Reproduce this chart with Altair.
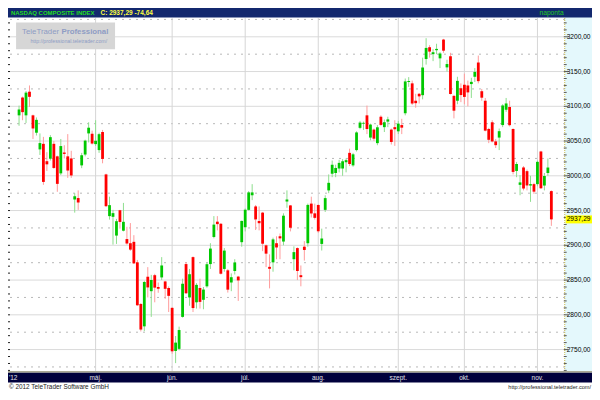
import altair as alt
import pandas as pd

# ---------------- data ----------------
dates = (
    ["2012-03-29", "2012-03-30"]
    + ["2012-04-%02d" % d for d in [2, 3, 4, 5, 9, 10, 11, 12, 13, 16, 17, 18, 19, 20, 23, 24, 25, 26, 27, 30]]
    + ["2012-05-%02d" % d for d in [1, 2, 3, 4, 7, 8, 9, 10, 11, 14, 15, 16, 17, 18, 21, 22, 23, 24, 25, 29, 30, 31]]
    + ["2012-06-%02d" % d for d in [1, 4, 5, 6, 7, 8, 11, 12, 13, 14, 15, 18, 19, 20, 21, 22, 25, 26, 27, 28, 29]]
    + ["2012-07-%02d" % d for d in [2, 3, 5, 6, 9, 10, 11, 12, 13, 16, 17, 18, 19, 20, 23, 24, 25, 26, 27, 30, 31]]
    + ["2012-08-%02d" % d for d in [1, 2, 3, 6, 7, 8, 9, 10, 13, 14, 15, 16, 17, 20, 21, 22, 23, 24, 27, 28, 29, 30, 31]]
    + ["2012-09-%02d" % d for d in [4, 5, 6, 7, 10, 11, 12, 13, 14, 17, 18, 19, 20, 21, 24, 25, 26, 27, 28]]
    + ["2012-10-%02d" % d for d in [1, 2, 3, 4, 5, 8, 9, 10, 11, 12, 15, 16, 17, 18, 19, 22, 23, 24, 25, 26, 31]]
    + ["2012-11-%02d" % d for d in [1, 2, 5, 6, 7]]
)

opens = [
    3087, 3112.6, 3087, 3121, 3087, 3062, 3038, 3046, 3021, 3024.6,
    3046, 3028, 3003.5, 3033.5, 3028, 3025, 2966, 2968, 3015, 3030.6,
    3061, 3060.5, 3045.6, 3037, 3063, 3002, 2942, 2941, 2914, 2950.5,
    2921, 2909, 2903, 2905, 2875.5, 2815.6, 2783.4, 2854.8, 2834, 2857,
    2840, 2853.8, 2848, 2838.6, 2810, 2748, 2751, 2797, 2873, 2825,
    2883, 2818, 2838.6, 2821.6, 2841, 2873, 2912, 2934, 2931, 2866,
    2864, 2846.5, 2863, 2855, 2904.5, 2926, 2951, 2972, 2956, 2935,
    2947, 2900, 2869, 2875.5, 2903, 2913, 2905.4, 2963, 2957.4, 2880,
    2896, 2857, 2898, 2903, 2960, 2946, 2958, 2902, 2951, 2979,
    3003, 3004, 3010.5, 3010.5, 3019.5, 3033, 3015, 3037, 3069, 3075,
    3087, 3055, 3066.5, 3047, 3085, 3070, 3078, 3066.5, 3070, 3064,
    3073, 3090, 3135, 3133, 3108, 3118, 3116, 3168, 3185, 3175,
    3180.7, 3169, 3196, 3156, 3172, 3115, 3108, 3126, 3131, 3130,
    3132, 3142.5, 3163, 3121.7, 3108, 3067.4, 3077, 3049.5, 3055, 3073,
    3095, 3099, 3067.4, 3007, 2987, 3012, 3006.7, 2986, 2988, 2988,
    3035, 2986, 3004, 2978,
]
highs = [
    3101, 3114, 3122, 3130, 3088, 3084, 3061, 3056, 3034, 3058.5,
    3050, 3029, 3053, 3044, 3060, 3036, 2975, 2979, 3033, 3052,
    3077, 3065, 3080, 3062, 3066, 3003, 2970, 2951, 2938, 2951,
    2961, 2926.6, 2932, 2914.6, 2879, 2817, 2849, 2868.6, 2857.5, 2859,
    2846.5, 2883, 2849, 2841, 2811, 2769.5, 2783, 2852, 2876, 2866,
    2884, 2845.6, 2852, 2840, 2875, 2903, 2942, 2942, 2932, 2896,
    2866, 2859.6, 2880, 2856, 2935.5, 2953, 2978, 2988, 2958, 2956,
    2948, 2901, 2887, 2911, 2913, 2917, 2946, 2979, 2958, 2898.5,
    2897, 2871, 2906, 2960, 2970, 2960, 2959, 2924, 2972, 3002,
    3022, 3016, 3023, 3024, 3025, 3039, 3033, 3064, 3079, 3078,
    3101, 3075, 3068, 3073, 3087, 3081, 3085, 3068, 3080, 3079,
    3082, 3140, 3142, 3137, 3118, 3119, 3170, 3198, 3188, 3182,
    3190, 3178, 3197, 3167, 3177, 3116, 3142.5, 3133, 3147, 3137,
    3141, 3155, 3173, 3125, 3112, 3069, 3080, 3053, 3068, 3103,
    3112, 3108, 3068, 3020, 3001, 3014, 3009, 3000, 2990, 3022,
    3036, 3004, 3025, 2979,
]
lows = [
    3072, 3080, 3076, 3099, 3053, 3058, 3030, 2987, 3007, 3022,
    3010, 2977, 3001, 3025, 2997, 2997, 2947, 2951, 3011, 3028,
    3048, 3045, 3043, 3033, 3018, 2955, 2937, 2901, 2902, 2924,
    2920, 2901, 2892, 2873, 2813, 2776, 2776.5, 2825, 2797, 2818,
    2831.7, 2850, 2823, 2804, 2744, 2730.5, 2749, 2796, 2830, 2813,
    2804, 2809, 2809, 2808, 2839, 2866, 2910, 2921.5, 2858, 2862,
    2832, 2834, 2858, 2820, 2898, 2920, 2950, 2965, 2922, 2921.5,
    2891.6, 2868.6, 2838, 2862, 2880, 2880, 2900, 2954, 2920, 2864,
    2850, 2841, 2878, 2898, 2940, 2937, 2918, 2892.5, 2948, 2975,
    2998, 2998, 3005, 3000, 3005, 3014, 3013, 3035, 3067, 3066,
    3060, 3051, 3050, 3044, 3072, 3063, 3070, 3045, 3043, 3060,
    3060, 3087, 3128, 3102, 3098, 3104, 3110, 3160, 3170, 3165,
    3175, 3155, 3177, 3150, 3117, 3082.6, 3103, 3106, 3103, 3100,
    3112, 3135, 3133, 3108, 3064, 3047, 3048, 3040, 3037, 3070,
    3092, 3071, 3002, 2998, 2972, 2979, 2979, 2962.5, 2974, 2985,
    2981, 2979, 3000, 2928,
]
closes = [
    3095.4, 3091.6, 3119.7, 3113.6, 3068.1, 3080.5, 3047.1, 2991.2, 3016.5, 3055.6,
    3011.3, 2988.4, 3042.8, 3031.5, 3007.6, 3000.5, 2970.5, 2961.6, 3029.6, 3050.6,
    3069.2, 3046.4, 3050.4, 3059.9, 3024.3, 2956.3, 2957.8, 2946.3, 2934.7, 2933.6,
    2933.8, 2902.6, 2893.8, 2874.0, 2813.7, 2778.8, 2847.2, 2839.4, 2850.1, 2839.1,
    2837.5, 2871.0, 2837.4, 2827.3, 2747.5, 2760.0, 2778.1, 2844.7, 2831.0, 2858.4,
    2809.7, 2843.1, 2818.6, 2836.3, 2872.8, 2895.3, 2929.8, 2930.5, 2859.1, 2892.4,
    2836.2, 2854.1, 2875.3, 2849.5, 2935.1, 2951.2, 2976.1, 2976.1, 2937.3, 2931.8,
    2902.3, 2888.0, 2866.2, 2908.5, 2896.9, 2910.0, 2942.6, 2965.9, 2925.3, 2890.2,
    2863.0, 2854.2, 2893.3, 2958.1, 2945.8, 2939.5, 2920.2, 2909.8, 2967.9, 2989.9,
    3015.9, 3011.3, 3018.6, 3020.9, 3022.5, 3017.0, 3030.9, 3062.4, 3076.6, 3076.2,
    3067.3, 3073.7, 3053.4, 3069.8, 3073.2, 3077.1, 3081.2, 3048.7, 3067.0, 3075.1,
    3069.3, 3135.8, 3136.4, 3104.0, 3104.5, 3114.3, 3155.8, 3184.0, 3178.7, 3177.8,
    3182.6, 3176.0, 3180.0, 3160.8, 3117.7, 3093.7, 3136.6, 3116.2, 3113.5, 3120.0,
    3135.2, 3149.5, 3136.2, 3112.4, 3065.0, 3051.8, 3049.4, 3044.1, 3064.2, 3101.2,
    3104.1, 3072.9, 3005.6, 3017.0, 2990.5, 2981.7, 2986.1, 2988.0, 2977.2, 3020.1,
    2982.1, 2999.7, 3011.9, 2937.3,
]

month_idx = [22, 44, 65, 86, 109, 128, 149]
month_names = ["máj.", "jún.", "júl.", "aug.", "szept.", "okt.", "nov."]
year_label = "'12"
price_levels = [2750, 2800, 2850, 2900, 2950, 3000, 3050, 3100, 3150, 3200]
price_labels = ["2750,00", "2800,00", "2850,00", "2900,00", "2950,00",
                "3000,00", "3050,00", "3100,00", "3150,00", "3200,00"]
last_close = 2937.29
last_label = "2937,29"
title_name = "NASDAQ COMPOSITE INDEX"
title_quote = "C: 2937,29 -74,64"
period_label = "naponta"
wm_title1 = "TeleTrader"
wm_title2 = "Professional"
wm_url = "http://professional.teletrader.com/"
footer_left = "© 2012 TeleTrader Software GmbH"
footer_right = "http://professional.teletrader.com/"

# ---------------- layout ----------------
TOTAL_W, TOTAL_H = 584, 384          # whole chart, fits the 600x400 window with 8px margin
SX, SY = TOTAL_W / 600, TOTAL_H / 400
PL, PT = 2, 10                       # padding left / top
W, H = 555, 353                      # plot area
PR, PB = TOTAL_W - PL - W, TOTAL_H - PT - H
FONT = "Liberation Sans"


def PX(xr):
    """reference-picture x -> chart x"""
    return round(xr * SX - PL, 2)


def PY(yr):
    """reference-picture y -> chart y"""
    return round(yr * SY - PT, 2)


# calibration of the reference picture: session i sits at x = 6.3 + 3.64 i,
# price v sits at y = 30 + (3200 - v) * 0.724
X0, DX = 6.3, 3.64
left_ref, right_ref = PL / SX, (PL + W) / SX
top_ref, bot_ref = PT / SY, (PT + H) / SY
xs = alt.Scale(domain=[(left_ref - X0) / DX, (right_ref - X0) / DX], nice=False, zero=False)
ys = alt.Scale(domain=[3200 - (bot_ref - 30) / 0.724, 3200 - (top_ref - 30) / 0.724],
               nice=False, zero=False)

df = pd.DataFrame({
    "idx": list(range(len(dates))),
    "date": dates,
    "open": opens, "high": highs, "low": lows, "close": closes,
})
df["dir"] = ["up" if c >= o else "down" for o, c in zip(opens, closes)]

one = pd.DataFrame({"k": [0]})

grid_df = pd.DataFrame({"level": list(range(2725, 3226, 25))})
grid_df["major"] = grid_df["level"] % 50 == 0
tick_df = pd.DataFrame({"level": list(range(2720, 3230, 10))})
tick_df["major"] = tick_df["level"] % 50 == 0
lab_df = pd.DataFrame({"level": price_levels, "label": price_labels})
mon_df = pd.DataFrame({"idx": month_idx, "name": month_names})
last_df = pd.DataFrame({"level": [last_close], "label": [last_label]})

X = alt.X("idx:Q", scale=xs, axis=None)


def Y(field):
    return alt.Y(field, scale=ys, axis=None)


def rect(x1, x2, y1, y2, color):
    return alt.Chart(one).mark_rect(color=color).encode(
        x=alt.value(x1), x2=alt.value(x2), y=alt.value(y1), y2=alt.value(y2))


def text(t, x, y, color, size, align="left", weight="normal", font=FONT):
    return alt.Chart(one).mark_text(
        text=t, align=align, baseline="middle", color=color, fontSize=size,
        fontWeight=weight, font=font).encode(x=alt.value(x), y=alt.value(y))


# backgrounds
panel = rect(PX(572), PX(602), PY(9), PY(378), "#e4f8fc")
topbar = rect(-4, PX(602), -12, PY(10), "#13286e")
axisband = rect(-4, PX(602), PY(378), PY(380), "#a9a894")
botbar = rect(-4, PX(602), PY(380), PY(390), "#00003c")

# grid
hgrid_major = alt.Chart(grid_df).transform_filter("datum.major").mark_rule(
    color="#dadada", strokeWidth=1).encode(
    y=Y("level:Q"), x=alt.value(0), x2=alt.value(W))
hgrid_minor = alt.Chart(grid_df).transform_filter("!datum.major").mark_rule(
    color="#b8b8b8", strokeWidth=1, strokeDash=[2, 5]).encode(
    y=Y("level:Q"), x=alt.value(0), x2=alt.value(W))
vgrid = alt.Chart(mon_df).mark_rule(color="#d6d6d6", strokeWidth=1).encode(
    x=X, y=alt.value(0), y2=alt.value(H))

# candles
up_cond = "datum.dir == 'up'"
wicks = alt.Chart(df).mark_rule(strokeWidth=1).encode(
    x=X, y=Y("low:Q"), y2=alt.Y2("high:Q"),
    color=alt.condition(up_cond, alt.value("#8ede8e"), alt.value("#ff9c9c")))
bodies = alt.Chart(df).mark_bar(size=2.8).encode(
    x=X, y=Y("open:Q"), y2=alt.Y2("close:Q"),
    color=alt.condition(up_cond, alt.value("#00c800"), alt.value("#ff0000")))

# right axis
sep = alt.Chart(one).mark_rule(color="#c9b64a", strokeDash=[1, 1]).encode(
    x=alt.value(PX(572)), y=alt.value(0), y2=alt.value(H))
rticks_major = alt.Chart(tick_df).transform_filter("datum.major").mark_rule(color="#5a5a5a").encode(
    y=Y("level:Q"), x=alt.value(PX(571)), x2=alt.value(PX(576)))
rticks_minor = alt.Chart(tick_df).transform_filter("!datum.major").mark_rule(color="#5a5a5a").encode(
    y=Y("level:Q"), x=alt.value(PX(571)), x2=alt.value(PX(574)))
lticks = alt.Chart(tick_df).mark_rule(color="#202020").encode(
    y=Y("level:Q"), x=alt.value(-2), x2=alt.value(0))
rlabels = alt.Chart(lab_df).mark_text(
    align="left", baseline="middle", fontSize=6.6, font=FONT, color="#000000").encode(
    y=Y("level:Q"), x=alt.value(PX(574)), text="label:N")
last_box = alt.Chart(last_df).mark_rule(color="#ffff00", strokeWidth=8).encode(
    y=Y("level:Q"), x=alt.value(PX(573)), x2=alt.value(PX(601)))
last_txt = alt.Chart(last_df).mark_text(
    align="left", baseline="middle", fontSize=6.6, font=FONT, color="#000000").encode(
    y=Y("level:Q"), x=alt.value(PX(574)), text="label:N")

# x labels in the bottom bar
mlabels = alt.Chart(mon_df).mark_text(
    align="center", baseline="middle", fontSize=6.5, font=FONT, color="#e0e0e8").encode(
    x=X, y=alt.value(PY(385)), text="name:N")
ylabel = text(year_label, PX(1), PY(385), "#e0e0e8", 6.5)

# title bar
t1 = text(title_name, PX(3), PY(5), "#22dd22", 6.0, weight="bold")
t2 = text(title_quote, PX(95), PY(5), "#ffff40", 6.5, weight="bold")
t3 = text(period_label, PX(546), PY(5), "#22cc22", 6.7)

# watermark
wm_box = rect(PX(8.3), PX(110), PY(15), PY(43), "#d6d6d6")
wm1 = text(wm_title1, PX(52.5), PY(25), "#8e9cc4", 7.8, align="right")
wm2 = text(wm_title2, PX(55), PY(25), "#8e9cc4", 7.8, weight="bold")
wm3 = text(wm_url, PX(23), PY(34.5), "#8e9cc4", 5.2)

# footer
f1 = text(footer_left, PX(1), PY(395), "#222222", 6.4)
f2 = text(footer_right, PX(599), PY(395), "#222222", 5.6, align="right")

chart = alt.layer(
    panel, topbar, axisband, botbar,
    hgrid_major, hgrid_minor, vgrid,
    wm_box, wm1, wm2, wm3,
    wicks, bodies,
    sep, rticks_major, rticks_minor, lticks, last_box, rlabels, last_txt,
    mlabels, ylabel, t1, t2, t3, f1, f2,
).properties(
    width=W, height=H,
    padding={"left": PL, "top": PT, "right": PR, "bottom": PB},
    autosize=alt.AutoSizeParams(type="none"),
).configure_view(stroke=None)

chart.save("out.html", embed_options={"renderer": "svg", "actions": False})
